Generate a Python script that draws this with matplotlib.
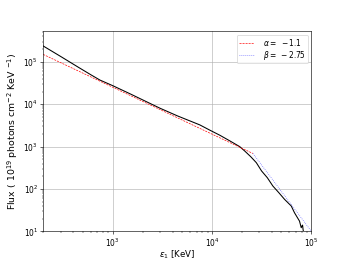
import matplotlib
matplotlib.use("Agg")
import matplotlib.pyplot as plt

# Observed spectrum (black)
energy = [200, 300, 450, 600, 745, 1000, 1500, 2985, 4500, 5970, 7530, 9500,
          11970, 15000, 19000, 21300, 24500, 27900, 31500, 36000, 40900,
          47000, 53700, 62700, 67600, 75900, 79000, 80500, 81500, 82500, 83400]
flux = [2.37e5, 1.34e5, 7.5e4, 5.0e4, 3.72e4, 2.75e4, 1.76e4, 8.09e3, 5.3e3,
        4.06e3, 3.26e3, 2.45e3, 1.86e3, 1.38e3, 1.0e3, 791, 580, 419, 267,
        185, 118, 82, 57, 39.7, 27.5, 17.5, 12.2, 13.5, 14.1, 11.0, 9.6]

# Fitted broken power law
alpha_x = [200, 25800]
alpha_y = [1.5e5, 690]
beta_x = [25800, 1.0e5]
beta_y = [690, 10]

alpha_label = r'$\alpha =\ -1.1$'
beta_label = r'$\beta =\ -2.75$'

fig = plt.figure(figsize=(346 / 54, 260 / 54), dpi=54)
ax = fig.add_subplot(111)
ax.plot(energy, flux, color='black', lw=1.4)
ax.plot(alpha_x, alpha_y, color='red', ls='--', lw=0.9, dashes=(3, 1.5),
        label=alpha_label)
ax.plot(beta_x, beta_y, color='#6060ff', ls=':', lw=1.0, label=beta_label)
ax.set_xscale('log')
ax.set_yscale('log')
ax.set_xlim(200, 1e5)
ax.set_ylim(10, 5.3e5)
ax.grid(True)
ax.set_xlabel(r'$\varepsilon_1$ [KeV]', fontsize=11.5, labelpad=-0.5)
ax.set_ylabel(r'Flux ( $10^{19}$ photons cm$^{-2}$ KeV $^{-1}$)', fontsize=12.5)
ax.legend(loc='upper right', fontsize=10, labelspacing=0.1, borderpad=0.25,
          handletextpad=1.2, handlelength=2.0)
fig.savefig('out.png', dpi=54)
